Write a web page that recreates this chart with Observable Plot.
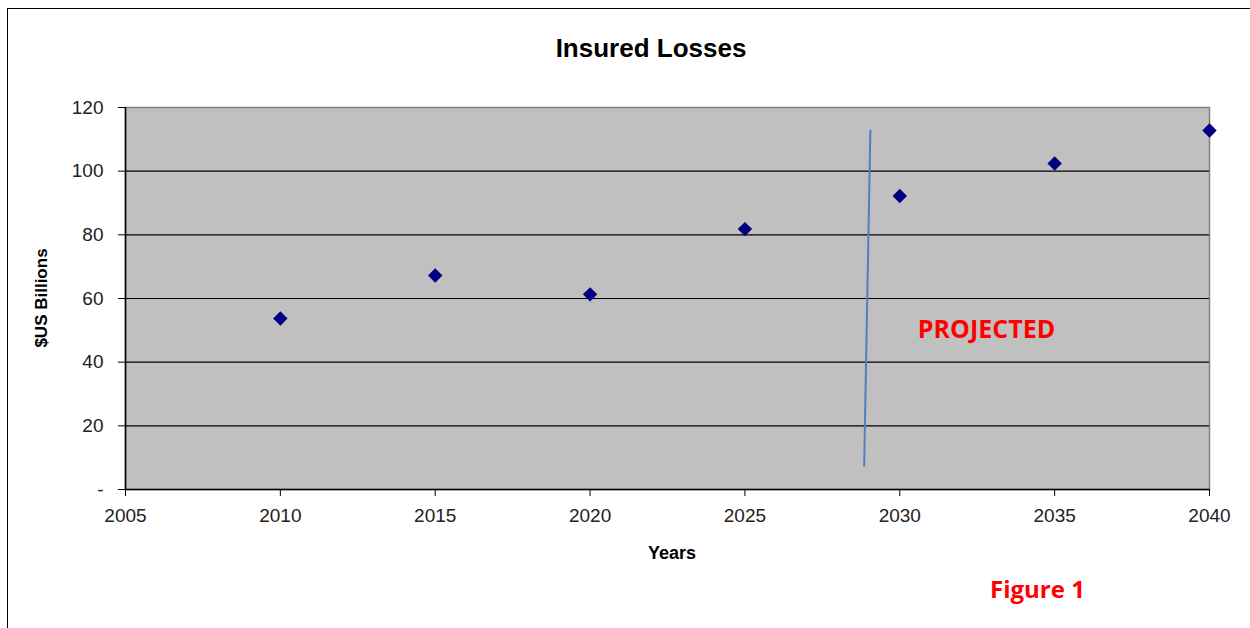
<!DOCTYPE html>
<html><head><meta charset="utf-8">
<script src="https://cdn.jsdelivr.net/npm/d3@7"></script>
<script src="https://cdn.jsdelivr.net/npm/@observablehq/plot@0.6"></script>
<style>
body{margin:0;background:#fff;width:1250px;height:628px;overflow:hidden;position:relative;font-family:"Liberation Sans",Arial,sans-serif}
#border{position:absolute;left:7px;top:8px;width:1260px;height:640px;border:1.5px solid #000;box-sizing:border-box}
#chart{position:absolute;left:0;top:0}
.lbl{position:absolute;font-weight:bold;color:#000;white-space:nowrap}
#title{left:651px;top:48px;font-size:26px;transform:translate(-50%,-50%)}
#ylab{left:42px;top:298px;font-size:17px;transform:translate(-50%,-50%) rotate(-90deg)}
#xlab{left:672px;top:553px;font-size:18px;transform:translate(-50%,-50%)}
#fig{left:990px;top:572px;font-size:24px;color:#ff0000;font-family:"Open Sans",Lato,sans-serif}
</style></head>
<body>
<div id="border"></div>
<div id="chart"></div>
<div class="lbl" id="title">Insured Losses</div>
<div class="lbl" id="ylab">$US Billions</div>
<div class="lbl" id="xlab">Years</div>
<div class="lbl" id="fig">Figure 1</div>
<script>
const years = [2010, 2015, 2020, 2025, 2030, 2035, 2040];
const losses = [53.7, 67.2, 61.3, 81.8, 92.2, 102.4, 112.8];
const xTicks = [2005, 2010, 2015, 2020, 2025, 2030, 2035, 2040];
const yTicks = [0, 20, 40, 60, 80, 100, 120];
const gridValues = [20, 40, 60, 80, 100];
const dividerYears = [2029.05, 2028.85];
const dividerValues = [112.8, 7.5];
const noteYears = [2032.8];
const noteValues = [50];
const noteTexts = ["PROJECTED"];

const points = years.map((y, i) => ({year: y, value: losses[i]}));
const divider = dividerYears.map((y, i) => ({year: y, value: dividerValues[i]}));
const notes = noteYears.map((y, i) => ({year: y, value: noteValues[i], text: noteTexts[i]}));

const chart = Plot.plot({
  width: 1250, height: 628,
  marginLeft: 125, marginRight: 41, marginTop: 107, marginBottom: 139,
  style: {fontFamily: "'Liberation Sans', Arial, sans-serif", fontSize: "19px", background: "transparent", color: "#222"},
  x: {domain: [2005, 2040]},
  y: {domain: [0, 120]},
  marks: [
    Plot.frame({fill: "#C0C0C0", stroke: "#808080", strokeWidth: 1.5}),
    Plot.ruleY(gridValues, {stroke: "#000", strokeWidth: 1.2}),
    Plot.ruleX([2005], {stroke: "#000", strokeWidth: 1.5}),
    Plot.ruleY([0], {stroke: "#000", strokeWidth: 1.5}),
    Plot.axisY({ticks: yTicks, tickSize: 7, tickPadding: 15, label: null, fontSize: 19,
      tickFormat: d => d === 0 ? "-" : String(d), stroke: "#000", fill: "#222"}),
    Plot.axisX({ticks: xTicks, tickSize: 7, tickPadding: 12, label: null, fontSize: 19,
      tickFormat: d => String(d), stroke: "#000", fill: "#222"}),
    Plot.line(divider, {x: "year", y: "value", stroke: "#4F81BD", strokeWidth: 2}),
    Plot.dot(points, {x: "year", y: "value", symbol: "diamond2", r: 6.5, fill: "#000080", stroke: "none"}),
    Plot.text(notes, {x: "year", y: "value", text: "text", fill: "#ff0000", fontSize: 25, fontWeight: "bold",
      fontFamily: "'Open Sans', Lato, sans-serif"})
  ]
});
document.getElementById("chart").appendChild(chart);
</script>
</body></html>
